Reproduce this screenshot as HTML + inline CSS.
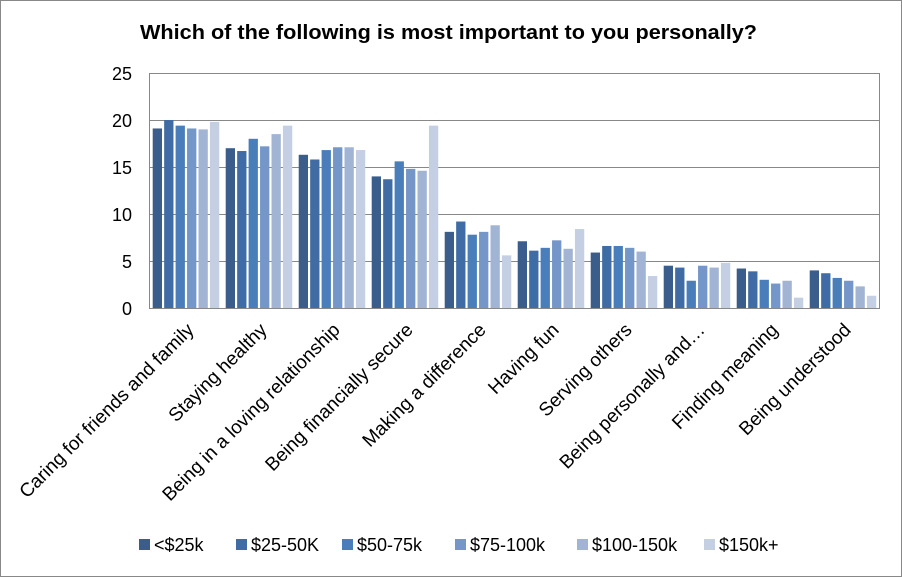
<!DOCTYPE html>
<html><head><style>body{margin:0;background:#fff}</style></head><body>
<svg width="902" height="577" xmlns="http://www.w3.org/2000/svg" font-family="Liberation Sans, sans-serif">
<rect x="0.5" y="0.5" width="901" height="576" fill="#fff" stroke="#888"/>
<text x="140" y="39" font-size="20" font-weight="bold" fill="#000" textLength="617" lengthAdjust="spacingAndGlyphs">Which of the following is most important to you personally?</text>
<g stroke="#888" stroke-width="1">
<line x1="150" y1="73.5" x2="880" y2="73.5"/><line x1="150" y1="120.5" x2="880" y2="120.5"/>
<line x1="150" y1="167.5" x2="880" y2="167.5"/><line x1="150" y1="214.5" x2="880" y2="214.5"/>
<line x1="150" y1="261.5" x2="880" y2="261.5"/><line x1="150" y1="308.5" x2="880" y2="308.5"/>
<line x1="149.5" y1="73" x2="149.5" y2="309"/><line x1="879.5" y1="73" x2="879.5" y2="309"/>
</g>
<g font-size="18" fill="#000" text-anchor="end">
<text x="132" y="80">25</text><text x="132" y="127">20</text><text x="132" y="174">15</text>
<text x="132" y="221">10</text><text x="132" y="268">5</text><text x="132" y="315">0</text>
</g>
<g id="bars"></g>
<g id="labels" font-size="19" fill="#000" text-anchor="end"></g>
<g font-size="18" fill="#000">
<rect x="139" y="539" width="11" height="11" fill="#3A5D8C"/><text x="154" y="551">&lt;$25k</text>
<rect x="236" y="539" width="11" height="11" fill="#3F6CA5"/><text x="251" y="551">$25-50K</text>
<rect x="342" y="539" width="11" height="11" fill="#4A7EBB"/><text x="357" y="551">$50-75k</text>
<rect x="455" y="539" width="11" height="11" fill="#7596C8"/><text x="470" y="551">$75-100k</text>
<rect x="577" y="539" width="11" height="11" fill="#A1B4D4"/><text x="592" y="551">$100-150k</text>
<rect x="704" y="539" width="11" height="11" fill="#C4CFE4"/><text x="719" y="551">$150k+</text>
</g>
<script>
var d=[[19.1,20,19.4,19.1,19,19.8],[17,16.7,18,17.2,18.5,19.4],[16.3,15.8,16.8,17.1,17.1,16.8],[14,13.7,15.6,14.8,14.6,19.4],[8.1,9.2,7.8,8.1,8.8,5.6],[7.1,6.1,6.4,7.2,6.3,8.4],[5.9,6.6,6.6,6.4,6,3.4],[4.5,4.3,2.9,4.5,4.3,4.8],[4.2,3.9,3.0,2.6,2.9,1.1],[4.0,3.7,3.2,2.9,2.3,1.3]];
var c=["#3A5D8C","#3F6CA5","#4A7EBB","#7596C8","#A1B4D4","#C4CFE4"];
var L=["Caring for friends and family","Staying healthy","Being in a loving relationship","Being financially secure","Making a difference","Having fun","Serving others","Being personally and\u2026","Finding meaning","Being understood"];
var ns="http://www.w3.org/2000/svg",b=document.getElementById("bars"),lb=document.getElementById("labels");
for(var g=0;g<10;g++){for(var i=0;i<6;i++){var r=document.createElementNS(ns,"rect");var h=d[g][i]*9.4;
r.setAttribute("x",152.7+g*73+i*11.45);r.setAttribute("y",308-h);r.setAttribute("width",9.3);r.setAttribute("height",h);r.setAttribute("fill",c[i]);b.appendChild(r);}
var t=document.createElementNS(ns,"text");var x=150+g*73+45,y=331;t.setAttribute("x",x);t.setAttribute("y",y);t.setAttribute("transform","rotate(-45 "+x+" "+y+")");t.textContent=L[g];lb.appendChild(t);}
</script>
</svg>
</body></html>
